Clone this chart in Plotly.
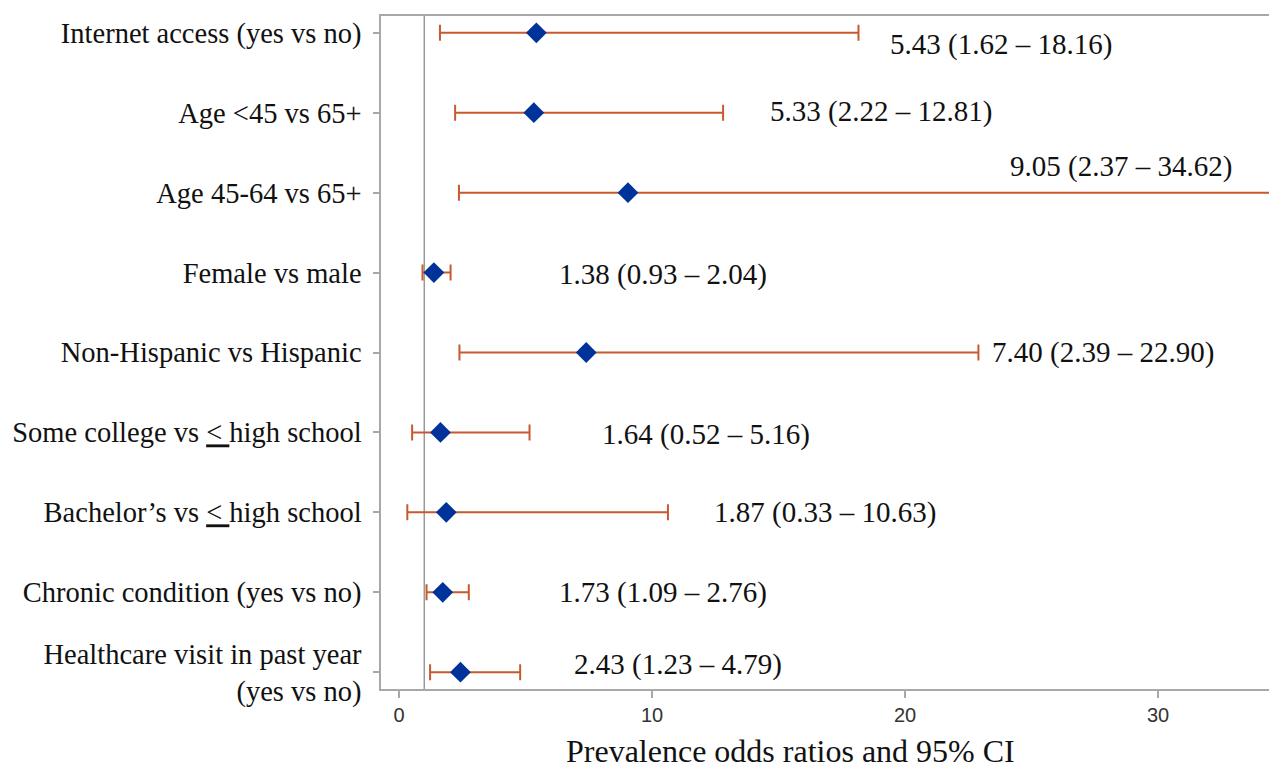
import plotly.graph_objects as go

categories = [
    "Internet access (yes vs no)",
    "Age &lt;45 vs 65+",
    "Age 45-64 vs 65+",
    "Female vs male",
    "Non-Hispanic vs Hispanic",
    "Some college vs <span style=\"text-decoration:underline\">&lt; </span>high school",
    "Bachelor’s vs <span style=\"text-decoration:underline\">&lt; </span>high school",
    "Chronic condition (yes vs no)",
    "Healthcare visit in past year<br>(yes vs no)",
]
odds_ratio = [5.43, 5.33, 9.05, 1.38, 7.40, 1.64, 1.87, 1.73, 2.43]
ci_lower = [1.62, 2.22, 2.37, 0.93, 2.39, 0.52, 0.33, 1.09, 1.23]
ci_upper = [18.16, 12.81, 34.62, 2.04, 22.90, 5.16, 10.63, 2.76, 4.79]
x_ticks = [0, 10, 20, 30]

# label placement (data units), kept separate from values
label_x = [19.33, 14.58, 24.07, 6.25, 23.36, 7.94, 12.37, 6.25, 6.84]
label_dy = [0.15, -0.02, -0.33, 0.02, 0.0, 0.03, 0.0, 0.0, -0.1]

labels = [f"{o:.2f} ({l:.2f} – {u:.2f})" for o, l, u in zip(odds_ratio, ci_lower, ci_upper)]

ypos = list(range(len(categories)))

fig = go.Figure()
fig.add_trace(go.Scatter(
    x=odds_ratio, y=ypos, mode="markers",
    marker=dict(symbol="diamond", size=16, color="#003399"),
    error_x=dict(type="data", symmetric=False,
                 array=[u - o for u, o in zip(ci_upper, odds_ratio)],
                 arrayminus=[o - l for o, l in zip(odds_ratio, ci_lower)],
                 color="#C65A2E", thickness=2, width=8),
    showlegend=False, hoverinfo="skip",
))

fig.add_shape(type="line", x0=1, x1=1, xref="x", y0=0, y1=1, yref="paper",
              line=dict(color="#9A9A9A", width=1.5), layer="below")

for i, t in enumerate(labels):
    fig.add_annotation(x=label_x[i], y=ypos[i] + label_dy[i], xref="x", yref="y",
                       text=t, showarrow=False, xanchor="left", yanchor="middle",
                       font=dict(family="Liberation Serif", size=29, color="#111"))

fig.add_annotation(x=0.4565, y=0, xref="paper", yref="paper", yshift=-62,
                   text="Prevalence odds ratios and 95% CI", showarrow=False,
                   xanchor="center", yanchor="middle", borderpad=0,
                   font=dict(family="Liberation Serif", size=32, color="#111"))

fig.update_layout(
    width=1269, height=763,
    margin=dict(l=373, r=0, t=8, b=82),
    paper_bgcolor="white", plot_bgcolor="white",
    xaxis=dict(range=[-0.71, 34.7], tickvals=x_ticks, ticks="outside", ticklen=7,
               tickcolor="#A8A8A8", tickwidth=1.5,
               showline=True, linecolor="#A8A8A8", linewidth=1.5, mirror=True,
               showgrid=False, zeroline=False,
               tickfont=dict(family="Liberation Sans", size=20, color="#333")),
    yaxis=dict(range=[8.21, -0.21], tickvals=ypos, ticktext=categories,
               ticks="outside", ticklen=6, tickcolor="#A8A8A8", tickwidth=1.5,
               showline=True, linecolor="#A8A8A8", linewidth=1.5,
               showgrid=False, zeroline=False, ticklabelstandoff=6,
               tickfont=dict(family="Liberation Serif", size=28.5, color="#111")),
)

fig.write_html("out.html")
